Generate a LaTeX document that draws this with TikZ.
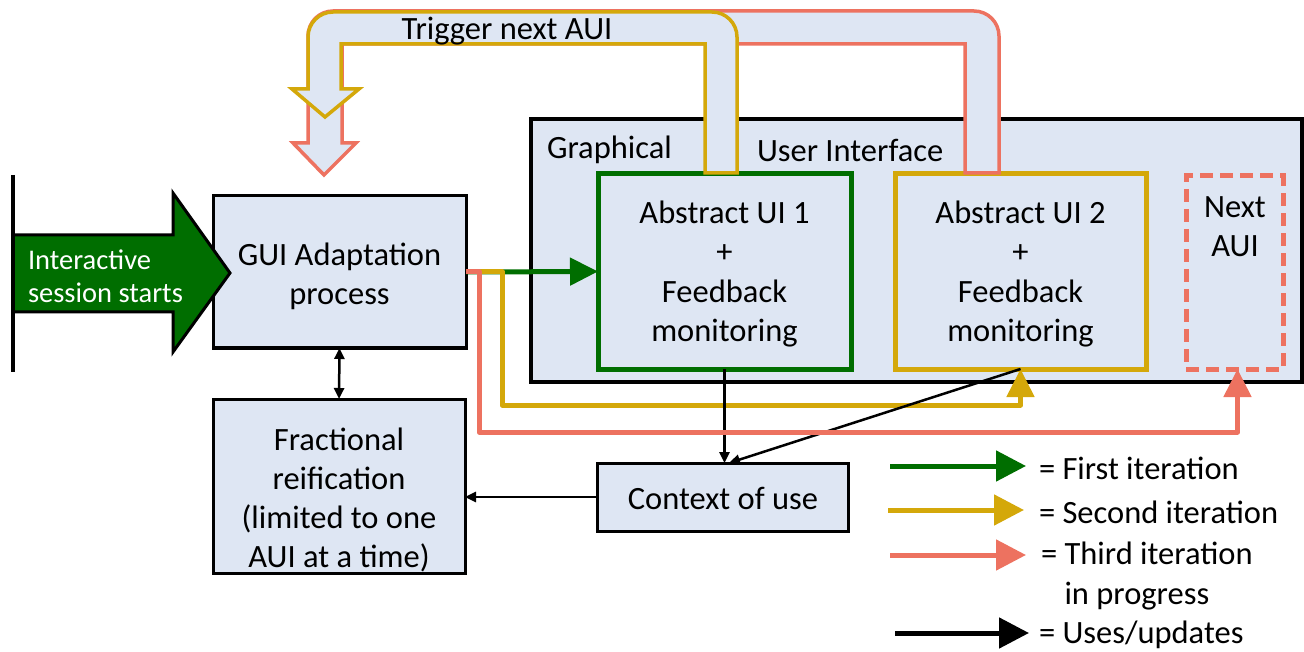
\documentclass[tikz,border=0pt]{standalone}
\usepackage{fontspec}
\setmainfont{Carlito}
\usetikzlibrary{arrows.meta}
\definecolor{boxblue}{RGB}{222,230,243}
\definecolor{dgreen}{RGB}{0,110,0}
\definecolor{gold}{RGB}{212,168,10}
\definecolor{salmon}{RGB}{237,114,96}
\begin{document}
\begin{tikzpicture}[x=1pt,y=-1pt,
  every node/.style={font=\fontsize{32.5}{39.3}\selectfont, inner sep=0pt, outer sep=0pt},
  box/.style={draw=black, line width=3pt, fill=boxblue},
  txt/.style={align=center},
  iter/.style={line width=5pt, line join=round},
  bigtip/.style={-{Triangle[length=28pt,width=27pt]}},
  thinarrow/.style={line width=2.5pt, -{Triangle[length=11pt,width=10pt]}},
  legtip/.style={line width=5pt, -{Triangle[length=30pt,width=30pt]}},
  blockarrow/.style={line width=3.5pt, fill=boxblue, line join=miter}
]
\useasboundingbox (0,0) rectangle (1304,652);

% Graphical User Interface frame
\node[box, line width=4pt, minimum width=771pt, minimum height=263pt] (gui) at (916.5,250.5) {};
\node[anchor=west] (glbl1) at (547,150) {Graphical};
\node[anchor=west] (glbl2) at (757,150) {User Interface};

% AUI boxes
\node[box, draw=dgreen, line width=5pt, minimum width=253pt, minimum height=195pt] (aui1) at (724.5,271.5) {};
\node[txt] (aui1t) at (724.5,274) {Abstract UI 1\\+\\Feedback\\monitoring};
\node[box, draw=gold, line width=5pt, minimum width=251pt, minimum height=195pt] (aui2) at (1020.5,271.5) {};
\node[txt] (aui2t) at (1020.5,274) {Abstract UI 2\\+\\Feedback\\monitoring};
\node[box, draw=salmon, dash pattern=on 13pt off 7pt, line width=5pt, minimum width=97pt, minimum height=193pt] (nextaui) at (1234.5,272.5) {};
\node[txt] (nextt) at (1235,227) {Next\\AUI};

% Trigger next AUI block arrows
\draw[blockarrow, draw=salmon] (965,173) -- (965,44) -- (342,44) -- (342,143) -- (356,143) -- (324,175) -- (293,143) -- (308,143) -- (308,36) .. controls (308,22.2) and (319.2,11) .. (333,11) -- (974,11) .. controls (987.8,11) and (999,22.2) .. (999,36) -- (999,173) -- cycle;
\draw[blockarrow, draw=gold] (705,173) -- (705,44) -- (341,44) -- (341,89) -- (359,89) -- (325,117) -- (292,89) -- (308,89) -- (308,37) .. controls (308,23.2) and (319.2,12) .. (333,12) -- (712,12) .. controls (725.8,12) and (737,23.2) .. (737,37) -- (737,173) -- cycle;
\node (trig) at (507,31) {Trigger next AUI};

% Left-hand boxes
\node[box, minimum width=253pt, minimum height=152pt] (gad) at (339.5,272) {};
\node[txt] (gadt) at (339.5,276) {GUI Adaptation\\process};
\node[box, minimum width=252pt, minimum height=174pt] (frac) at (339,486) {};
\node[txt] (fract) at (339,500) {Fractional\\reification\\(limited to one\\AUI at a time)};
\node[box, minimum width=251pt, minimum height=68pt] (ctx) at (723,497) {};
\node (ctxt) at (723,498) {Context of use};

% Session start arrow
\draw[line width=3pt, fill=dgreen, line join=miter] (13,235) -- (173,235) -- (173,193) -- (230,273) -- (173,352) -- (173,312) -- (13,312) -- cycle;
\draw[line width=4pt] (13,175) -- (13,372);
\node[anchor=west, align=left, text=white, font=\fontsize{28.5}{33}\selectfont] (startt) at (28,276) {Interactive\\session starts};

% iteration connectors
\draw[iter, dgreen, bigtip] (gad.east) -- (aui1.west);
\draw[iter, gold, bigtip] (gad.east) -- ++(36,0) -- ++(0,133) -| (aui2.south);
\draw[thinarrow] (aui1.south) -- (aui1.south |- ctx.north);
\draw[thinarrow] (aui2.south) -- ([xshift=6pt]ctx.north);
\draw[iter, salmon, bigtip] (gad.east) -- ++(13,0) -- ++(0,160) -| ([xshift=3pt]nextaui.south);
\draw[line width=2.5pt, {Triangle[length=11pt,width=10pt]}-{Triangle[length=11pt,width=10pt]}] (gad.south) -- (frac.north);
\draw[thinarrow] (ctx.west) -- (ctx.west -| frac.east);

% legend
\coordinate (l1a) at (890,466); \coordinate (l1b) at (1026,466);
\coordinate (l2a) at (888,510); \coordinate (l2b) at (1024,510);
\coordinate (l3a) at (890,555); \coordinate (l3b) at (1026,555);
\coordinate (l4a) at (895,633); \coordinate (l4b) at (1029,633);
\draw[legtip, dgreen] (l1a) -- (l1b);
\draw[legtip, gold] (l2a) -- (l2b);
\draw[legtip, salmon] (l3a) -- (l3b);
\draw[legtip, black] (l4a) -- (l4b);
\node[anchor=west] (lt1) at (1039,468) {= First iteration};
\node[anchor=west] (lt2) at (1039,512) {= Second iteration};
\node[anchor=west, align=left] (lt3) at (1041,576) {= Third iteration\\\phantom{= }in progress};
\node[anchor=west] (lt4) at (1039,635) {= Uses/updates};
\end{tikzpicture}
\end{document}
